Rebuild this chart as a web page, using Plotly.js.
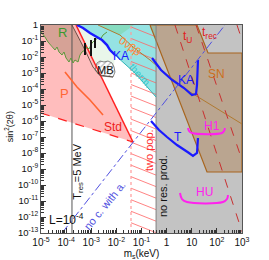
<!DOCTYPE html>
<html><head><meta charset="utf-8">
<script src="https://cdn.plot.ly/plotly-3.0.1.min.js"></script>
<style>html,body{margin:0;padding:0;background:#fff}</style>
</head><body><div id="chart" style="width:269px;height:260px"></div>
<script>
// ---- tick labels ----
const xTickVals = [1e-5,1e-4,1e-3,1e-2,1e-1,1,10,100,1000];
const xTickText = ['10<sup>-5</sup>','10<sup>-4</sup>','10<sup>-3</sup>','10<sup>-2</sup>','10<sup>-1</sup>','1','10','10<sup>2</sup>','10<sup>3</sup>'];
const yTickVals = [1,1e-1,1e-2,1e-3,1e-4,1e-5,1e-6,1e-7,1e-8,1e-9,1e-10,1e-11,1e-12,1e-13];
const yTickText = ['1','10<sup>-1</sup>','10<sup>-2</sup>','10<sup>-3</sup>','10<sup>-4</sup>','10<sup>-5</sup>','10<sup>-6</sup>','10<sup>-7</sup>','10<sup>-8</sup>','10<sup>-9</sup>','10<sup>-10</sup>','10<sup>-11</sup>','10<sup>-12</sup>','10<sup>-13</sup>'];

// ---- regions (m_s in keV, sin^2 2theta) ----
const grayM = [0.38, 1000, 1000, 0.38];
const grayS = [1, 1, 1e-13, 1e-13];
const cyanM = [2.71e-4, 4.7e-4, 8.9e-4, 1.69e-3, 2.68e-3, 4.24e-3, 5.57e-3, 8.8e-3, 0.0551, 0.378, 0.378];
const cyanS = [1, 0.65, 0.316, 0.178, 0.115, 0.056, 0.0274, 0.0133, 1e-3, 3.16e-5, 1];
const mintM = [1.86e-3, 0.05, 0.0139];
const mintS = [1, 1, 0.237];
const stdM = [1e-5, 2.47e-4, 0.0459, 1e-5];
const stdS = [1, 1, 4.87e-8, 3.16e-6];
const rRegM = [1e-5, 1.71e-4, 5.64e-4, 4.28e-4, 3.56e-4, 2.97e-4, 2.25e-4, 1.88e-4, 1.56e-4, 1.30e-4, 9.9e-5, 8.22e-5, 6.86e-5, 5.2e-5, 4.34e-5, 3.61e-5, 2.74e-5, 1.9e-5, 1.44e-5, 1e-5];
const rRegS = [1, 1, 0.0274, 0.0205, 0.0133, 4.87e-3, 6.5e-3, 4.22e-3, 8.66e-3, 4.87e-3, 8.66e-3, 0.0205, 0.0133, 0.0205, 0.0422, 0.0274, 0.0487, 0.0866, 0.178, 0.365];
const paleM = [2.47e-4, 2.71e-4, 4.7e-4, 8.9e-4, 1.69e-3, 2.68e-3, 4.24e-3, 5.57e-3, 8.8e-3, 7.34e-3, 2.23e-3];
const paleS = [1, 1, 0.65, 0.316, 0.178, 0.115, 0.056, 0.0274, 0.0133, 5.6e-4, 7.5e-4];
const twoPopM = [0.0382, 0.378];             // hatched band edges
const brownM = [0.218, 16.2, 44.4, 1000, 1000, 40.5, 0.218];
const brownS = [1, 1, 0.0178, 0.0178, 6.5e-10, 6.5e-10, 1];
const mbM = [1.69e-3, 2.23e-3, 3.21e-3, 4.64e-3, 6.70e-3, 8.04e-3, 8.8e-3, 7.34e-3, 2.23e-3, 1.41e-3, 1.69e-3];
const mbS = [4.22e-3, 5.6e-3, 4.87e-3, 5.6e-3, 4.22e-3, 2.37e-3, 1.15e-3, 5.6e-4, 6.5e-4, 1.54e-3, 4.22e-3];

// ---- curves ----
const kaM1 = [2.71e-4, 4.7e-4, 8.9e-4, 1.69e-3, 2.68e-3, 4.24e-3, 5.57e-3, 8.8e-3];
const kaS1 = [1, 0.65, 0.316, 0.178, 0.115, 0.056, 0.0274, 0.0133];
const kaM2 = [0.262, 0.597, 1.64, 4.92, 10.2, 14.8, 16.2, 17.7];
const kaS2 = [8.7e-3, 1.54e-3, 3.65e-4, 1.15e-4, 4.2e-5, 4.9e-5, 1.78e-4, 6.5e-3];
const tM = [0.239, 0.498, 1.035, 2.59, 7.78, 11.2, 16.2, 17.7, 17.7];
const tS = [1e-6, 2.74e-7, 1e-7, 3.16e-8, 1e-8, 6.5e-9, 1e-8, 4.2e-8, 8.7e-8];
const greenM = [1e-5, 1.44e-5, 1.9e-5, 2.74e-5, 3.61e-5, 4.34e-5, 5.2e-5, 6.86e-5, 8.22e-5, 9.9e-5, 1.30e-4, 1.56e-4, 1.88e-4, 2.25e-4, 2.97e-4, 3.56e-4, 4.28e-4, 5.64e-4, 6.78e-4, 8.13e-4, 1.07e-3, 1.41e-3, 1.86e-3, 2.23e-3, 2.94e-3, 4.24e-3];
const greenS = [0.365, 0.178, 0.0866, 0.0487, 0.0274, 0.0422, 0.0205, 0.0133, 0.0205, 8.66e-3, 4.87e-3, 8.66e-3, 4.22e-3, 6.5e-3, 4.87e-3, 0.0133, 0.0205, 0.0274, 0.0422, 0.0316, 0.075, 0.115, 0.154, 0.115, 0.237, 0.365];
const darkM = [1.71e-4, 5.64e-4, 1.17e-3, 2.23e-3, 7.34e-3];
const darkS = [1, 0.0274, 2.37e-3, 7.5e-4, 5.6e-4];
const pM = [9.0e-5, 2.71e-4, 8.9e-4, 2.94e-3];
const pS = [1.15e-3, 1.33e-4, 2.05e-5, 2.37e-6];
const oliveM = [1.86e-3, 0.0139, 0.0459, 0.218, 1.36, 8.5, 1000];
const oliveS = [1, 0.237, 0.0422, 6.5e-3, 5.6e-4, 6.5e-5, 6.5e-7];
const thermM = [8.8e-3, 0.0551, 0.378];
const thermS = [0.0133, 1e-3, 3.16e-5];
const stdLineM = [2.47e-4, 0.0459];
const stdLineS = [1, 4.87e-8];
const stdDashM = [1e-5, 0.0459];
const stdDashS = [3.16e-6, 4.87e-8];
const tUM = [2.15, 1000];
const tUS = [1, 1.2e-13];
const tRecM = [14.8, 1000];
const tRecS = [1, 3.6e-9];
const t3M = [631, 1000];
const t3S = [1, 0.115];
const noCM = [6.86e-5, 210];
const noCS = [1e-13, 1];
const tresM = [1.71e-4, 1.71e-4];
const tresS = [1e-13, 1];
const twoPopLineM = [0.0382, 0.0382];
const grayEdgeM = [0.38, 0.38];
const fullS = [1e-13, 1];
const barsM = [5.64e-4, 5.64e-4, null, 9.8e-4, 9.8e-4, null, 1.41e-3, 1.41e-3];
const barsS = [0.075, 0.0133, null, 0.115, 0.0115, null, 0.154, 0.0365];
const h1M = [7.1, 7.78, 10.2, 160, 192, 210];
const h1S = [3.65e-7, 2.37e-7, 1.78e-7, 1.78e-7, 2.37e-7, 3.65e-7];
const huM = [3.40, 4.09, 6.47, 175, 253, 277];
const huS = [3.16e-11, 1.33e-11, 8.66e-12, 8.66e-12, 1.33e-11, 2.37e-11];

// hatch decoration for the "two pop." band (falling lines, clipped to the plot)
const hatchX = [], hatchY = [];
for (let e = 0.6; e > -13.5; e -= 0.72) {
  hatchX.push(twoPopM[0], twoPopM[1], null);
  hatchY.push(Math.pow(10, e), Math.pow(10, e - 0.62), null);
}

function region(x, y, fill, extra) {
  return Object.assign({x: x, y: y, mode: 'lines', fill: 'toself', fillcolor: fill,
    line: {width: 0, color: 'rgba(0,0,0,0)'}, hoverinfo: 'skip', showlegend: false}, extra || {});
}
function line(x, y, color, width, dash, extra) {
  return Object.assign({x: x, y: y, mode: 'lines', line: {color: color, width: width, dash: dash || 'solid'},
    hoverinfo: 'skip', showlegend: false}, extra || {});
}

const traces = [
  region(grayM, grayS, '#c3c3c3'),
  region(cyanM, cyanS, '#95e3e3'),
  region(mintM, mintS, '#86dcc0'),
  region(stdM, stdS, '#ffbdbd'),
  region(rRegM, rRegS, 'rgba(120,100,60,0.30)'),
  region(paleM, paleS, '#e9f6ea'),
  line(hatchX, hatchY, 'rgba(255,100,100,0.8)', 1, 'solid', {connectgaps: false}),
  region(brownM, brownS, 'rgba(170,115,60,0.38)', {line: {color: '#a8651e', width: 1.2}}),
  region(mbM, mbS, '#ffffff', {line: {color: '#666', width: 0.8}, fillpattern: {shape: '/', fgcolor: '#aaa', bgcolor: '#fff', size: 4, solidity: 0.25}}),
  line(twoPopLineM, fullS, '#ff9a9a', 1.2, 'dot'),
  line(grayEdgeM, fullS, '#808080', 1),
  line(tresM, tresS, '#555555', 1),
  line(stdLineM, stdLineS, '#ff2020', 1.5),
  line(stdDashM, stdDashS, '#ff2020', 1.2, 'dash'),
  line(darkM, darkS, '#4a3a30', 0.8),
  line(greenM, greenS, '#5c9a3c', 1),
  line(pM, pS, '#ff6633', 1.6),
  line(oliveM, oliveS, '#b07a30', 1),
  line(thermM, thermS, '#2fb5b8', 1),
  line(kaM1, kaS1, '#1a1aff', 2.4),
  line(kaM2, kaS2, '#1a1aff', 2.2),
  line(tM, tS, '#1a1aff', 2.2),
  line(tUM, tUS, '#c83030', 1, 'dash'),
  line(tRecM, tRecS, '#c83030', 1, 'dash'),
  line(t3M, t3S, '#c83030', 1, 'dash'),
  line(noCM, noCS, '#5050e0', 1, 'dashdot'),
  line(barsM, barsS, '#111111', 2, 'solid', {connectgaps: false}),
  line(h1M, h1S, '#ff22ee', 2, 'solid', {line: {color: '#ff22ee', width: 2, shape: 'spline'}}),
  line(huM, huS, '#ff22ee', 2, 'solid', {line: {color: '#ff22ee', width: 2, shape: 'spline'}})
];

const F = 'Liberation Sans, Arial, sans-serif';
function ann(text, x, y, color, size, angle) {
  return {text: text, x: x, y: y, xref: 'paper', yref: 'paper', showarrow: false,
    font: {family: F, size: size, color: color}, textangle: angle || 0, xanchor: 'center', yanchor: 'middle'};
}
const annotations = [
  ann('R', 0.109, 0.962, '#3a9a30', 13),
  ann('P', 0.119, 0.673, '#ff6633', 13),
  ann('Std', 0.358, 0.510, '#ee1c1c', 12),
  ann('MB', 0.323, 0.784, '#111', 11),
  ann('KA', 0.398, 0.851, '#1a1aff', 12),
  ann('KA', 0.721, 0.736, '#1a1aff', 12),
  ann('T', 0.682, 0.462, '#1a1aff', 12),
  ann('0νββ', 0.443, 0.899, '#ff8830', 11, 35),
  ann('therm.', 0.493, 0.755, '#33c8cc', 10, 48),
  ann('t<sub>U</sub>', 0.731, 0.942, '#e02020', 12),
  ann('t<sub>rec</sub>', 0.836, 0.962, '#e02020', 12),
  ann('SN', 0.871, 0.764, '#cc7020', 12),
  ann('H1', 0.851, 0.515, '#ff22ee', 12),
  ann('HU', 0.811, 0.197, '#ff22ee', 12),
  Object.assign(ann('L=10<sup>-4</sup>', 0.03, 0.067, '#111', 12), {xanchor: 'left'}),
  ann('T<sub>res</sub>=5 MeV', 0.182, 0.293, '#111', 11, -90),
  ann('no c. with a.', 0.318, 0.135, '#5050e0', 11, -51),
  ann('two pop.', 0.537, 0.399, '#ff3030', 11, -90),
  ann('no res. prod.', 0.607, 0.226, '#111', 11, -90),
  ann('sin<sup>2</sup>(2θ)', -0.158, 0.51, '#111', 9, -90)
];

const layout = {
  width: 269, height: 260,
  margin: {l: 41, r: 27, t: 25, b: 27},
  paper_bgcolor: '#fff', plot_bgcolor: '#fff',
  showlegend: false,
  font: {family: F, size: 10, color: '#111'},
  xaxis: {type: 'log', range: [-5, 3], tickmode: 'array', tickvals: xTickVals, ticktext: xTickText,
    ticks: 'inside', ticklen: 5, tickcolor: '#333', showline: true, linecolor: '#555', mirror: true,
    showgrid: false, zeroline: false, automargin: false, tickfont: {size: 10},
    minor: {ticks: 'inside', ticklen: 3, tickcolor: '#333', dtick: 'D1', showgrid: false},
    title: {text: 'm<sub>s</sub>(keV)', font: {size: 10}, standoff: 2}},
  yaxis: {type: 'log', range: [-13, 0], tickmode: 'array', tickvals: yTickVals, ticktext: yTickText,
    ticks: 'inside', ticklen: 5, tickcolor: '#333', showline: true, linecolor: '#555', mirror: true,
    showgrid: false, zeroline: false, automargin: false, tickfont: {size: 9.5},
    minor: {ticks: 'inside', ticklen: 3, tickcolor: '#333', dtick: 'D1', showgrid: false}},
  annotations: annotations
};

Plotly.newPlot('chart', traces, layout, {displayModeBar: false, staticPlot: true});
</script></body></html>
